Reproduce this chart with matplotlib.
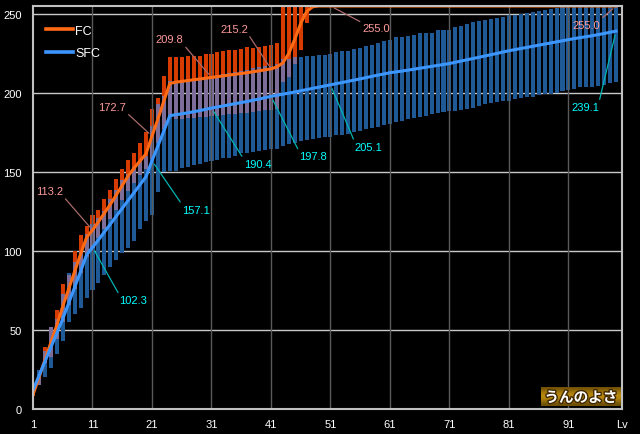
import matplotlib
matplotlib.use('Agg')
import matplotlib.pyplot as plt
import matplotlib.patheffects as pe
import numpy as np

# Lv 1..99, luck stat (FC / SFC): average, min, max
levels = list(range(1, 100))

fc_avg = [9, 20, 31, 42, 53, 65, 76, 87, 98, 108.5,
          113.2, 118.5, 124, 129.5, 135.5, 141.5, 147.5, 152.5, 157, 161.5,
          172.7, 183.5, 195, 206, 206.8, 207.3, 207.8, 208.3, 208.8, 209.3,
          209.8, 210.3, 210.8, 211.3, 211.8, 212.3, 212.8, 213.4, 214, 214.6,
          215.2, 216.5, 219, 225, 234, 244, 251.5, 254.5] + [255.0] * 51
fc_min = [8.4, 15, 29, 33, 44, 55, 66, 76, 86, 96,
          102, 108, 114, 120, 126, 132, 138, 143, 148, 152,
          158, 168, 177, 184.6, 183.5, 183.8, 184, 184.3, 184.6, 185,
          185.3, 185.7, 186, 186.4, 186.8, 187.2, 187.6, 188, 188.5, 189,
          189.5, 190, 207, 210, 218, 227, 244] + [255.0] * 52
fc_max = [11, 21, 39.5, 52, 62.7, 79, 85, 100, 110, 116,
          122.8, 126, 133, 138.6, 145.6, 152, 157.6, 162, 168, 175,
          190, 197, 210.5, 222.6, 222.6, 222.6, 223.2, 223.6, 223.2, 224.7,
          224.7, 225.7, 226.4, 227.2, 227.2, 227.8, 228.9, 228.3, 229.3, 230,
          230.6, 231.6] + [255.0] * 57

sfc_avg = [12, 21, 30, 39, 48, 57, 67, 77, 87, 97.5,
           102.3, 107, 112, 117, 122, 127, 132, 137, 142, 147,
           157.1, 166.5, 176, 185.6, 186.2, 186.8, 187.4, 188.1, 188.8, 189.6,
           190.4, 191.1, 191.8, 192.5, 193.2, 193.9, 194.6, 195.4, 196.1, 197.0,
           197.8, 198.5, 199.2, 199.9, 200.6, 201.4, 202.1, 202.9, 203.6, 204.4,
           205.1, 205.9, 206.6, 207.4, 208.1, 208.9, 209.7, 210.5, 211.3, 212.0,
           212.8, 213.3, 213.8, 214.4, 215.0, 215.6, 216.2, 216.8, 217.4, 218.0,
           218.6, 219.4, 220.2, 221.0, 221.8, 222.6, 223.4, 224.2, 225.0, 225.9,
           226.7, 227.4, 228.1, 228.8, 229.5, 230.2, 230.9, 231.6, 232.3, 233.0,
           233.7, 234.4, 235.0, 235.6, 236.2, 236.9, 237.6, 238.4, 239.1]
sfc_min = [10, 15, 20.5, 26, 35, 43, 55, 60, 64, 70,
           75, 80, 85, 90, 94, 99, 102, 106, 114, 119,
           123, 137, 150, 150.8, 150.8, 152.5, 153.4, 154.6, 155, 156,
           157.2, 157.6, 158.6, 158.9, 160.3, 161.8, 162.2, 162.4, 163.5, 164.1,
           164.6, 164.6, 166.7, 167.7, 168, 169.8, 170.3, 170.9, 171.3, 172,
           172, 173.4, 173.6, 174, 175.1, 176.2, 177.2, 177.8, 178.7, 180,
           180.4, 181.4, 182.5, 183.5, 184.2, 184.6, 185.7, 186.7, 187.1, 187.8,
           188.4, 188.8, 189.2, 189.9, 190.5, 192, 193, 193.7, 194.1, 194.7,
           195.1, 196.2, 196.8, 197.3, 197.7, 198.9, 199.4, 199.4, 199.8, 201.5,
           201.9, 202.5, 203.6, 204, 204, 204.6, 205.3, 206.1, 207.2]
sfc_max = [12.7, 24.7, 37, 52, 57, 73, 86, 93, 100, 110.8,
           117, 120.7, 125.5, 133, 138.8, 145, 148.7, 153, 157, 160,
           179, 193, 198, 207.8, 207.8, 208, 208.5, 209, 209.4, 209.9,
           211, 211.5, 212, 212.5, 213, 214, 214.8, 215.5, 216.2, 217,
           217.3, 218.4, 221.5, 221.5, 222.6, 223, 223.2, 223.6, 224, 224.3,
           224.7, 226, 226.8, 226.8, 227.8, 228.5, 230, 230.6, 231.6, 233.1,
           233.8, 235.2, 235.2, 235.9, 236.7, 238, 238, 238, 239.5, 240,
           240, 242, 242.4, 243.7, 244.7, 245.4, 246.4, 246.8, 247.5, 247.9,
           249, 249.6, 250, 250.4, 251, 252, 252.7, 253.2, 253.8, 254.2] + [255.0] * 9

ann_levels = [11, 21, 31, 41, 51, 99]
# label offsets in pixels (dx, dy) and corner of the text the leader starts from
fc_offsets = [(-43, 39), (-40, 29), (-42, 38), (-37, 40), (46, -22), (-30, -19)]
fc_relpos = [(1, 0), (1, 0), (1, 0), (1, 0), (0, 1), (1, 1)]
sfc_offsets = [(41, -53), (44, -49), (46, -56), (42, -60), (38, -62), (-31, -76)]
sfc_relpos = [(0, 1), (0, 1), (0, 1), (0, 1), (0, 1), (1, 1)]

x = np.array(levels)
fa, fmin, fmax = np.array(fc_avg), np.array(fc_min), np.array(fc_max)
sa, smin, smax = np.array(sfc_avg), np.array(sfc_min), np.array(sfc_max)

plt.rcParams['font.family'] = ['Liberation Sans', 'DejaVu Sans']

fig = plt.figure(figsize=(6.4, 4.35), dpi=100, facecolor='black')
ax = fig.add_axes([33 / 640, 25 / 435, 589 / 640, 403 / 435])
ax.set_facecolor('black')

w = 0.68
ax.bar(x, fmax - fmin, bottom=fmin, width=w, color='#d63c00', linewidth=0, zorder=2)
ax.bar(x, smax - smin, bottom=smin, width=w, color='#1f5a96', linewidth=0, zorder=2)
lo = np.maximum(fmin, smin)
hi = np.minimum(fmax, smax)
ov = hi > lo
ax.bar(x[ov], (hi - lo)[ov], bottom=lo[ov], width=w, color='#7d6e99', linewidth=0, zorder=2)

ax.plot(x, fa, color='#ff6a14', lw=2.2, zorder=5, label='FC')
ax.plot(x, sa, color='#3c96ff', lw=2.2, zorder=5, label='SFC')

ax.set_xlim(1, 100)
ax.set_ylim(0, 255)
ax.set_yticks([0, 50, 100, 150, 200, 250])
xt = [1, 11, 21, 31, 41, 51, 61, 71, 81, 91, 100]
ax.set_xticks(xt)
ax.set_xticklabels([str(v) for v in xt[:-1]] + ['Lv'])
ax.tick_params(length=0, colors='white', labelsize=8)
ax.tick_params(axis='y', pad=8)
ax.tick_params(axis='x', pad=7)

for v in [50, 100, 150, 200, 250]:
    ax.axhline(v, color='#c8c8c8', lw=1, zorder=1)
for v in xt[1:-1]:
    ax.axvline(v, color='#5a5a5a', lw=1, zorder=3)

for s in ax.spines.values():
    s.set_color('#c0c0c0')
    s.set_linewidth(1.5)
    s.set_zorder(6)

for i, lv in enumerate(ann_levels):
    v = fa[lv - 1]
    ax.annotate(f'{v:.1f}', xy=(lv, v), xytext=fc_offsets[i], textcoords='offset pixels',
                ha='center', va='center', color='#ff9a9a', fontsize=8,
                annotation_clip=False, zorder=7,
                arrowprops=dict(arrowstyle='-', color='#a86a6a', lw=0.9,
                                shrinkA=0, shrinkB=3, relpos=fc_relpos[i]))
    v = sa[lv - 1]
    ax.annotate(f'{v:.1f}', xy=(lv, v), xytext=sfc_offsets[i], textcoords='offset pixels',
                ha='center', va='center', color='#00ffff', fontsize=8,
                annotation_clip=False, zorder=7,
                arrowprops=dict(arrowstyle='-', color='#00b4b4', lw=0.9,
                                shrinkA=0, shrinkB=3, relpos=sfc_relpos[i]))

leg = ax.legend(loc='upper left', frameon=False, fontsize=9, labelcolor='white',
                handlelength=2.2, handletextpad=0.15, labelspacing=0.85,
                borderaxespad=0.3, bbox_to_anchor=(4 / 589, 1 - 10 / 403))
for h in leg.get_lines():
    h.set_linewidth(2.6)

# watermark box
bx = fig.add_axes([541 / 640, (435 - 407.5) / 435, 80 / 640, 20 / 435])
grad = np.array([[0.35], [0.75], [0.95], [0.75], [0.35]])
bx.imshow(grad, aspect='auto', cmap=matplotlib.colors.LinearSegmentedColormap.from_list(
    'g', ['#3a2600', '#c89410']), vmin=0, vmax=1, interpolation='bicubic')
bx.set_axis_off()
bx.text(0.5, 0.47, 'うんのよさ', transform=bx.transAxes, ha='center', va='center',
        color='white', fontsize=10.5, fontweight='bold',
        family=['Noto Sans CJK JP', 'DejaVu Sans'],
        path_effects=[pe.withStroke(linewidth=2, foreground='#402800')])

fig.savefig('out.png', dpi=100, facecolor='black')
